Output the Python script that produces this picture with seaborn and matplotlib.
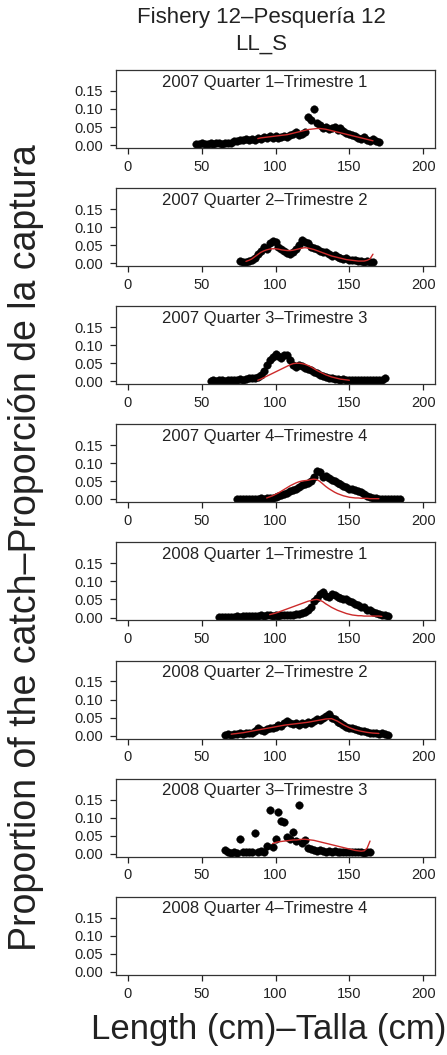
import numpy as np
import pandas as pd
import seaborn as sns
import matplotlib
matplotlib.use("Agg")
import matplotlib.pyplot as plt

# panel titles
panel_titles = [
    "2007 Quarter 1\u2013Trimestre 1",
    "2007 Quarter 2\u2013Trimestre 2",
    "2007 Quarter 3\u2013Trimestre 3",
    "2007 Quarter 4\u2013Trimestre 4",
    "2008 Quarter 1\u2013Trimestre 1",
    "2008 Quarter 2\u2013Trimestre 2",
    "2008 Quarter 3\u2013Trimestre 3",
    "2008 Quarter 4\u2013Trimestre 4",
]

# observed proportions (black dots), 2 cm length bins
obs_len_1 = list(range(46, 171, 2))
obs_prop_1 = [0.004, 0.003, 0.005, 0.004, 0.003, 0.005, 0.004, 0.006, 0.005, 0.004, 0.006, 0.007, 0.006,
              0.010, 0.012, 0.015, 0.013, 0.016, 0.014, 0.018, 0.015, 0.020, 0.017,
              0.022, 0.019, 0.024, 0.021, 0.025, 0.020, 0.023, 0.026, 0.022, 0.027,
              0.030, 0.037, 0.028, 0.032, 0.035,
              0.079, 0.070, 0.100, 0.062, 0.055,
              0.048, 0.050, 0.045, 0.047, 0.049,
              0.042, 0.046, 0.038, 0.033, 0.030,
              0.028, 0.025, 0.020, 0.018, 0.022,
              0.015, 0.012, 0.018, 0.010, 0.008]

obs_len_2 = list(range(76, 167, 2))
obs_prop_2 = [0.005, 0.004, 0.003, 0.006, 0.008,
              0.015, 0.025, 0.035, 0.045, 0.040,
              0.055, 0.062, 0.060, 0.045, 0.038,
              0.035, 0.028, 0.025, 0.030, 0.040,
              0.050, 0.065, 0.060, 0.055, 0.045,
              0.042, 0.038, 0.035, 0.030, 0.032,
              0.025, 0.020, 0.022, 0.018, 0.015,
              0.012, 0.014, 0.010, 0.008, 0.009,
              0.006, 0.005, 0.004, 0.006, 0.003, 0.004]

obs_len_3 = list(range(56, 175, 2))
obs_prop_3 = [0.002, 0.003, 0.002, 0.004, 0.003, 0.002, 0.003, 0.004, 0.005, 0.004,
              0.006, 0.005, 0.007, 0.008, 0.010, 0.009, 0.012, 0.018, 0.028, 0.045,
              0.060, 0.068, 0.075, 0.070, 0.065, 0.072, 0.073, 0.060, 0.045, 0.040,
              0.045, 0.042, 0.038, 0.035, 0.030, 0.025, 0.022, 0.018, 0.015, 0.012,
              0.010, 0.008, 0.007, 0.006, 0.005, 0.006, 0.005, 0.004, 0.005, 0.004,
              0.004, 0.003, 0.005, 0.004, 0.003, 0.004, 0.003, 0.004, 0.003, 0.008]

obs_len_4 = list(range(74, 185, 2))
obs_prop_4 = [0.002, 0.002, 0.002, 0.002, 0.002, 0.002, 0.002, 0.002, 0.003, 0.002,
              0.003, 0.004, 0.005, 0.008, 0.010, 0.012, 0.015, 0.018, 0.022, 0.026,
              0.030, 0.035, 0.040, 0.042, 0.045, 0.050, 0.062, 0.078, 0.075, 0.062,
              0.065, 0.060, 0.055, 0.050, 0.045, 0.042, 0.038, 0.035, 0.030, 0.028,
              0.025, 0.022, 0.020, 0.015, 0.010, 0.006, 0.004, 0.003, 0.002, 0.002,
              0.002, 0.002, 0.002, 0.002, 0.002, 0.002]

obs_len_5 = list(range(62, 177, 2))
obs_prop_5 = [0.002, 0.002, 0.002, 0.002, 0.002, 0.002, 0.003, 0.002, 0.003, 0.003,
              0.004, 0.003, 0.005, 0.004, 0.006, 0.005, 0.007, 0.006, 0.005, 0.006,
              0.005, 0.006, 0.007, 0.006, 0.008, 0.007, 0.009, 0.010, 0.012, 0.015,
              0.020, 0.030, 0.045, 0.055, 0.065, 0.070, 0.060, 0.058, 0.065, 0.062,
              0.058, 0.055, 0.052, 0.050, 0.045, 0.042, 0.038, 0.035, 0.030, 0.028,
              0.022, 0.020, 0.015, 0.012, 0.010, 0.008, 0.006, 0.005]

obs_len_6 = list(range(66, 177, 2))
obs_prop_6 = [0.003, 0.004, 0.003, 0.005, 0.004, 0.006, 0.005, 0.008, 0.006, 0.007,
              0.012, 0.020, 0.015, 0.014, 0.018, 0.020, 0.022, 0.025, 0.030, 0.028,
              0.035, 0.040, 0.035, 0.032, 0.034, 0.030, 0.035, 0.032, 0.038, 0.035,
              0.040, 0.045, 0.042, 0.048, 0.055, 0.060, 0.050, 0.045, 0.038, 0.035,
              0.030, 0.025, 0.020, 0.022, 0.018, 0.015, 0.012, 0.013, 0.010, 0.008,
              0.008, 0.006, 0.005, 0.006, 0.004, 0.003]

obs_len_7 = list(range(66, 165, 2))
obs_prop_7 = [0.010, 0.004, 0.003, 0.006, 0.003, 0.042, 0.004, 0.006, 0.005, 0.005,
              0.058, 0.004, 0.008, 0.006, 0.020, 0.122, 0.018, 0.040, 0.115, 0.090,
              0.088, 0.045, 0.040, 0.060, 0.035, 0.135, 0.030, 0.038, 0.015, 0.012,
              0.010, 0.008, 0.009, 0.007, 0.006, 0.008, 0.005, 0.007, 0.006, 0.005,
              0.006, 0.005, 0.004, 0.006, 0.005, 0.004, 0.005, 0.003, 0.006, 0.004]

obs_len_8 = []
obs_prop_8 = []

# predicted proportions (red line)
pred_len_1 = list(range(88, 167, 2))
pred_prop_1 = [0.018, 0.020, 0.021, 0.022, 0.023, 0.024, 0.025, 0.026, 0.027, 0.028,
               0.029, 0.031, 0.033, 0.035, 0.037, 0.039, 0.041, 0.043, 0.044, 0.045,
               0.046, 0.046, 0.045, 0.044, 0.042, 0.040, 0.038, 0.036, 0.034, 0.032,
               0.030, 0.028, 0.026, 0.024, 0.022, 0.020, 0.018, 0.016, 0.014, 0.012]

pred_len_2 = list(range(80, 167, 2))
pred_prop_2 = [0.005, 0.008, 0.012, 0.018, 0.024, 0.030, 0.034, 0.037, 0.039, 0.040,
               0.040, 0.039, 0.037, 0.036, 0.035, 0.035, 0.036, 0.038, 0.040, 0.042,
               0.043, 0.042, 0.040, 0.038, 0.035, 0.032, 0.029, 0.026, 0.023, 0.020,
               0.018, 0.016, 0.014, 0.012, 0.010, 0.009, 0.008, 0.007, 0.006, 0.006,
               0.006, 0.008, 0.012, 0.025]

pred_len_3 = list(range(88, 151, 2))
pred_prop_3 = [0.003, 0.006, 0.010, 0.014, 0.018, 0.022, 0.026, 0.030, 0.034, 0.038,
               0.042, 0.046, 0.049, 0.050, 0.050, 0.049, 0.047, 0.044, 0.040, 0.035,
               0.030, 0.026, 0.022, 0.018, 0.015, 0.012, 0.010, 0.008, 0.006, 0.005,
               0.004, 0.003]

pred_len_4 = list(range(94, 171, 2))
pred_prop_4 = [0.004, 0.007, 0.010, 0.014, 0.018, 0.023, 0.028, 0.033, 0.038, 0.042,
               0.046, 0.049, 0.051, 0.052, 0.053, 0.055, 0.056, 0.055, 0.050, 0.043,
               0.036, 0.030, 0.025, 0.020, 0.016, 0.013, 0.010, 0.008, 0.006, 0.005,
               0.004, 0.004, 0.003, 0.003, 0.003, 0.002, 0.002, 0.002, 0.002]

pred_len_5 = list(range(96, 173, 2))
pred_prop_5 = [0.008, 0.010, 0.012, 0.015, 0.018, 0.021, 0.024, 0.027, 0.030, 0.033,
               0.036, 0.039, 0.042, 0.045, 0.047, 0.049, 0.050, 0.048, 0.044, 0.038,
               0.033, 0.028, 0.024, 0.020, 0.017, 0.014, 0.011, 0.009, 0.007, 0.006,
               0.005, 0.005, 0.004, 0.004, 0.004, 0.004, 0.004, 0.004, 0.003]

pred_len_6 = list(range(70, 171, 4))
pred_prop_6 = [0.004, 0.006, 0.008, 0.011, 0.014, 0.017,
               0.020, 0.023, 0.026, 0.029, 0.031, 0.033,
               0.035, 0.037, 0.040, 0.043, 0.046, 0.047,
               0.040, 0.030, 0.022, 0.016, 0.012, 0.009,
               0.007, 0.006]

pred_len_7 = list(range(98, 165, 2))
pred_prop_7 = [0.028, 0.031, 0.033, 0.034, 0.035, 0.036, 0.037, 0.038, 0.038, 0.039,
               0.040, 0.040, 0.039, 0.038, 0.037, 0.035, 0.033, 0.031, 0.029, 0.027,
               0.025, 0.023, 0.021, 0.019, 0.017, 0.015, 0.013, 0.011, 0.009, 0.008,
               0.007, 0.008, 0.015, 0.035]

pred_len_8 = []
pred_prop_8 = []

obs_len = [obs_len_1, obs_len_2, obs_len_3, obs_len_4, obs_len_5, obs_len_6, obs_len_7, obs_len_8]
obs_prop = [obs_prop_1, obs_prop_2, obs_prop_3, obs_prop_4, obs_prop_5, obs_prop_6, obs_prop_7, obs_prop_8]
pred_len = [pred_len_1, pred_len_2, pred_len_3, pred_len_4, pred_len_5, pred_len_6, pred_len_7, pred_len_8]
pred_prop = [pred_prop_1, pred_prop_2, pred_prop_3, pred_prop_4, pred_prop_5, pred_prop_6, pred_prop_7, pred_prop_8]

x_ticks = [0, 50, 100, 150, 200]
y_ticks = [0.00, 0.05, 0.10, 0.15]
y_tick_labels = ["0.00", "0.05", "0.10", "0.15"]

sns.set_style("ticks")
plt.rcParams['font.family'] = ['Liberation Sans', 'DejaVu Sans']

W, H = 447, 1055
fig = plt.figure(figsize=(W / 100, H / 100), dpi=100)

left_px, right_px = 116, 435
first_top_px, step_px, height_px = 70, 118.1, 78

for i in range(8):
    top = first_top_px + i * step_px
    ax = fig.add_axes([left_px / W, 1 - (top + height_px) / H,
                       (right_px - left_px) / W, height_px / H])
    #observed points
    if obs_len[i]:
        df_obs = pd.DataFrame({"length": obs_len[i], "prop": obs_prop[i]})
        sns.scatterplot(data=df_obs, x="length", y="prop", ax=ax, color="black",
                        s=30, edgecolor="black", linewidth=0.3, zorder=2)
    #predicted line
    if pred_len[i]:
        df_pred = pd.DataFrame({"length": pred_len[i], "prop": pred_prop[i]})
        sns.lineplot(data=df_pred, x="length", y="prop", ax=ax, color="#cc2a2a",
                     linewidth=1.0, zorder=3)
    ax.set_xlim(-8, 208)
    ax.set_ylim(-0.008, 0.208)
    ax.set_xticks(x_ticks)
    ax.set_yticks(y_ticks)
    ax.set_yticklabels(y_tick_labels)
    ax.set_xlabel("")
    ax.set_ylabel("")
    ax.tick_params(axis="both", labelsize=10.5, length=4.5, width=0.9, color="#222222",
                   labelcolor="#222222")
    ax.tick_params(axis="y", pad=5)
    ax.tick_params(axis="x", pad=4)
    for sp in ax.spines.values():
        sp.set_visible(True)
        sp.set_linewidth(0.9)
        sp.set_color("#333333")
    ax.text(0.467, 0.94, panel_titles[i], transform=ax.transAxes, ha="center", va="top",
            fontsize=12, color="#222222")

fig.text(261 / W, 1 - 17 / H, "Fishery 12\u2013Pesquer\u00eda 12".replace("\u00ea", "\u00ed"),
         ha="center", va="center", fontsize=16, color="#222222")
fig.text(261 / W, 1 - 44 / H, "LL_S", ha="center", va="center", fontsize=16, color="#222222")
fig.text(26 / W, 1 - 548 / H, "Proportion of the catch\u2013Proporci\u00f3n de la captura",
         rotation=90, ha="center", va="center", fontsize=27, color="#222222")
fig.text(269 / W, 1 - 1030 / H, "Length (cm)\u2013Talla (cm)",
         ha="center", va="center", fontsize=25, color="#222222")

fig.savefig("out.png", dpi=100)
